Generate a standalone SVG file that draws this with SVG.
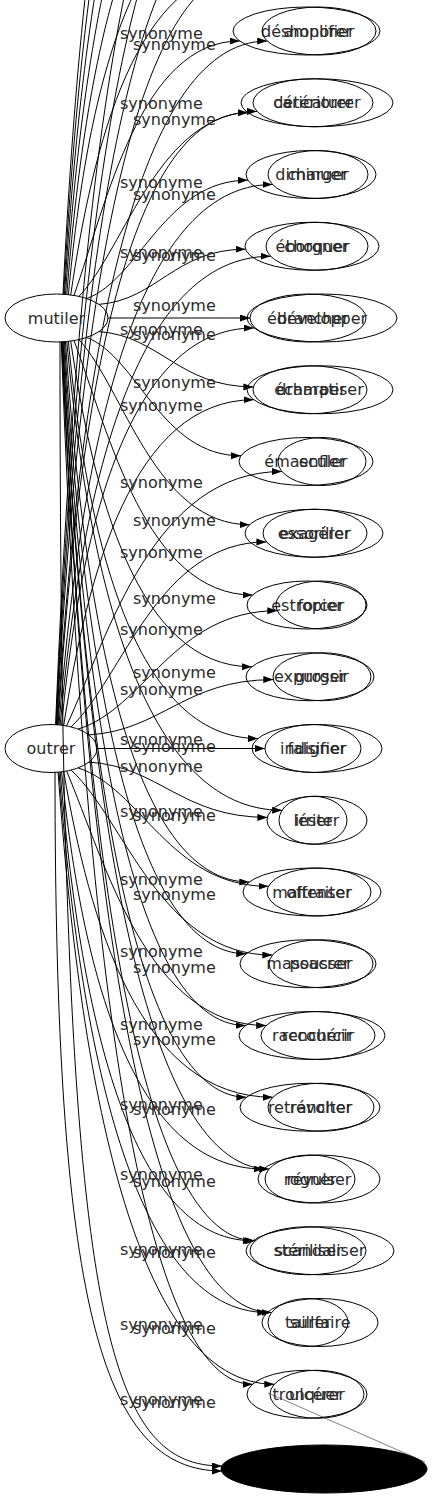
<svg xmlns="http://www.w3.org/2000/svg" width="432" height="1499" viewBox="0 0 432 1499">
<style>
.e{fill:none;stroke:#000;stroke-width:1;marker-end:url(#ah)}
.n ellipse{fill:none;stroke:#000;stroke-width:1}
text{font-family:"DejaVu Sans","Noto Sans",sans-serif;font-size:16px;fill:#2a2a2a}
.n text{text-anchor:middle}
</style>
<defs>
<marker id="ah" markerUnits="userSpaceOnUse" markerWidth="11" markerHeight="8" refX="10" refY="3.5" orient="auto"><path d="M0,0 L10,3.5 L0,7 z" fill="#000"/></marker>
</defs>
<rect width="432" height="1499" fill="#fff"/>
<g id="connectors">
<!-- mutiler upward (off canvas) -->
<path class="e" d="M70.7,294.9 C93.1,143.5 136.3,-30.75 251,-30.75"/>
<path class="e" d="M68.4,294.6 C86.7,96 132.3,-102.5 251,-102.5"/>
<path class="e" d="M66.8,294.5 C85.2,60.1 131.3,-174.25 251,-174.25"/>
<path class="e" d="M65.5,294.4 C84.1,24.2 130.4,-246 251,-246"/>
<path class="e" d="M64.5,294.3 C83.2,-11.7 129.8,-317.75 251,-317.75"/>
<path class="e" d="M63.7,294.2 C82.4,-47.7 129.3,-389.5 251,-389.5"/>
<path class="e" d="M63,294.2 C81.8,-83.5 128.8,-461.25 251,-461.25"/>
<!-- mutiler edges -->
<path class="e" d="M74,295.4 C106.4,202.9 141.1,41 239.7,41"/>
<path class="e" d="M78.9,296.4 C126.1,247.5 158,111.4 257,111.4"/>
<path class="e" d="M86.7,298.6 C140.2,278.6 164.4,180.2 247.9,180.2"/>
<path class="e" d="M99,304.4 C156.9,300 174.9,249.2 245.5,249.2"/>
<path class="e" d="M108,318 C150,318 200,318 250,318"/>
<path class="e" d="M99,331.6 C160,336 179,386.9 253.4,386.9"/>
<path class="e" d="M86.7,337.4 C137.9,357.4 161.1,455.8 241,455.8"/>
<path class="e" d="M78.9,339.6 C124.1,388.5 154.7,524.7 249.6,524.7"/>
<path class="e" d="M74,340.6 C109,433.1 146.3,595 252.5,595"/>
<path class="e" d="M70.7,341.1 C93.2,492.7 136.6,666.8 251.8,666.8"/>
<path class="e" d="M68.4,341.4 C87.4,540 134.7,738.5 257.9,738.5"/>
<path class="e" d="M66.8,341.5 C88.3,575.9 142.2,810.3 282.1,810.3"/>
<path class="e" d="M65.5,341.6 C83.9,611.8 129.8,882 249.3,882"/>
<path class="e" d="M64.5,341.7 C82.7,647.8 128.1,953.8 246.2,953.8"/>
<path class="e" d="M63.7,341.8 C81.9,683.7 127.4,1025.5 245.6,1025.5"/>
<path class="e" d="M63,341.8 C81.3,719.6 127.2,1097.3 246.4,1097.3"/>
<path class="e" d="M62.5,341.8 C83.2,755.4 134.8,1169 269.1,1169"/>
<path class="e" d="M62.1,341.9 C81.4,791.4 129.7,1240.8 255.3,1240.8"/>
<path class="e" d="M61.7,341.9 C82.7,827.2 135.2,1312.5 271.6,1312.5"/>
<path class="e" d="M61.3,341.9 C80.4,863.1 128.2,1384.3 252.5,1384.3"/>
<path class="e" d="M60,342 C60,1300 100,1466 222,1466"/>
<!-- outrer upward (off canvas) -->
<path class="e" d="M56.8,724.7 C76.2,347 124.8,-30.75 251,-30.75"/>
<path class="e" d="M56.4,724.7 C75.9,311.1 124.5,-102.5 251,-102.5"/>
<path class="e" d="M56,724.7 C75.5,275.2 124.3,-174.25 251,-174.25"/>
<path class="e" d="M55.6,724.7 C75.1,239.4 124,-246 251,-246"/>
<!-- outrer edges -->
<path class="e" d="M57.4,724.7 C78.4,382.9 130.8,41 267.2,41"/>
<path class="e" d="M58.1,724.8 C77.1,418.8 124.5,112.75 247.9,112.75"/>
<path class="e" d="M59,724.9 C80.4,454.7 133.7,184.5 272.5,184.5"/>
<path class="e" d="M60.2,725 C81.2,490.6 133.8,256.25 270.6,256.25"/>
<path class="e" d="M61.6,725.1 C80.8,526.6 128.9,328 253.8,328"/>
<path class="e" d="M63.7,725.4 C87.3,574 132.8,399.75 253.6,399.75"/>
<path class="e" d="M66.6,725.9 C108.8,633.4 153.8,471.5 282,471.5"/>
<path class="e" d="M71.1,726.9 C122.9,678 157.8,541.9 266.4,541.9"/>
<path class="e" d="M78,729.1 C144.2,709.1 174.1,610.7 277.3,610.7"/>
<path class="e" d="M88.9,734.9 C161.7,730.5 184.4,679.6 273.3,679.6"/>
<path class="e" d="M97,748.5 C150,748.5 210,748.5 265,748.5"/>
<path class="e" d="M88.9,762.1 C159.4,766.5 181.4,817.4 267.4,817.4"/>
<path class="e" d="M78,767.9 C141.2,787.9 169.8,886.3 268.5,886.3"/>
<path class="e" d="M71.1,770.1 C124.4,819 160.5,955.1 272.4,955.1"/>
<path class="e" d="M66.6,771.1 C105.7,863.6 147.4,1025.5 266.2,1025.5"/>
<path class="e" d="M63.7,771.6 C89.7,923 139.8,1097.25 272.8,1097.25"/>
<path class="e" d="M61.6,771.9 C81.8,970.5 132.3,1169 263.6,1169"/>
<path class="e" d="M60.2,772 C79.5,1006.4 127.6,1240.75 252.7,1240.75"/>
<path class="e" d="M59,772.1 C79.8,1042.3 131.9,1312.5 267.3,1312.5"/>
<path class="e" d="M58.1,772.2 C79.7,1078.2 133.8,1384.25 274.3,1384.25"/>
<path class="e" d="M55,772 C55,1300 100,1471 222,1471"/>
<path d="M268,1393 L425,1462" fill="none" stroke="#000" stroke-width="0.5"/>
<!-- edge labels -->
<text x="120" y="39">synonyme</text>
<text x="133" y="50">synonyme</text>
<text x="120" y="109">synonyme</text>
<text x="133" y="125">synonyme</text>
<text x="120" y="188">synonyme</text>
<text x="133" y="200">synonyme</text>
<text x="120" y="258">synonyme</text>
<text x="133" y="261">synonyme</text>
<text x="133" y="311">synonyme</text>
<text x="120" y="335">synonyme</text>
<text x="133" y="340">synonyme</text>
<text x="133" y="388">synonyme</text>
<text x="120" y="411">synonyme</text>
<text x="120" y="488">synonyme</text>
<text x="133" y="526">synonyme</text>
<text x="120" y="558">synonyme</text>
<text x="133" y="604">synonyme</text>
<text x="120" y="635">synonyme</text>
<text x="133" y="678">synonyme</text>
<text x="120" y="695">synonyme</text>
<text x="120" y="745">synonyme</text>
<text x="133" y="752">synonyme</text>
<text x="120" y="772">synonyme</text>
<text x="120" y="817">synonyme</text>
<text x="133" y="821">synonyme</text>
<text x="120" y="885">synonyme</text>
<text x="133" y="900">synonyme</text>
<text x="120" y="957">synonyme</text>
<text x="133" y="973">synonyme</text>
<text x="120" y="1030">synonyme</text>
<text x="133" y="1045">synonyme</text>
<text x="120" y="1110">synonyme</text>
<text x="133" y="1115">synonyme</text>
<text x="120" y="1180">synonyme</text>
<text x="133" y="1187">synonyme</text>
<text x="120" y="1255">synonyme</text>
<text x="133" y="1258">synonyme</text>
<text x="120" y="1330">synonyme</text>
<text x="133" y="1334">synonyme</text>
<text x="120" y="1405">synonyme</text>
<text x="133" y="1408">synonyme</text>
</g>
<g id="mutiler" class="n"><ellipse cx="56.5" cy="318" rx="51.5" ry="24"/><text x="56.5" y="323.5">mutiler</text></g>
<g id="outrer" class="n"><ellipse cx="51" cy="748.5" rx="46" ry="24"/><text x="51" y="754">outrer</text></g>
<g id="m-deshonorer" class="n"><ellipse cx="306.5" cy="31" rx="73.5" ry="24"/><text x="306.5" y="36.5">déshonorer</text></g>
<g id="o-amplifier" class="n"><ellipse cx="319" cy="31" rx="57" ry="24"/><text x="319" y="36.5">amplifier</text></g>
<g id="m-deteriorer" class="n"><ellipse cx="313" cy="102.75" rx="60" ry="24"/><text x="313" y="108.25">détériorer</text></g>
<g id="o-caricaturer" class="n"><ellipse cx="317" cy="102.75" rx="76" ry="24"/><text x="317" y="108.25">caricaturer</text></g>
<g id="m-diminuer" class="n"><ellipse cx="311" cy="174.5" rx="65" ry="24"/><text x="311" y="180">diminuer</text></g>
<g id="o-charger" class="n"><ellipse cx="318" cy="174.5" rx="50" ry="24"/><text x="318" y="180">charger</text></g>
<g id="m-eborgner" class="n"><ellipse cx="312" cy="246.25" rx="67" ry="24"/><text x="312" y="251.75">éborgner</text></g>
<g id="o-choquer" class="n"><ellipse cx="317" cy="246.25" rx="51" ry="24"/><text x="317" y="251.75">choquer</text></g>
<g id="m-ebrancher" class="n"><ellipse cx="308" cy="318" rx="58" ry="24"/><text x="308" y="323.5">ébrancher</text></g>
<g id="o-developper" class="n"><ellipse cx="322" cy="318" rx="75" ry="24"/><text x="322" y="323.5">développer</text></g>
<g id="m-echarper" class="n"><ellipse cx="310" cy="389.75" rx="57" ry="24"/><text x="310" y="395.25">écharper</text></g>
<g id="o-dramatiser" class="n"><ellipse cx="320" cy="389.75" rx="73" ry="24"/><text x="320" y="395.25">dramatiser</text></g>
<g id="m-emasculer" class="n"><ellipse cx="306" cy="461.5" rx="67" ry="24"/><text x="306" y="467">émasculer</text></g>
<g id="o-enfler" class="n"><ellipse cx="322" cy="461.5" rx="44" ry="24"/><text x="322" y="467">enfler</text></g>
<g id="m-essoriller" class="n"><ellipse cx="314" cy="533.25" rx="69" ry="24"/><text x="314" y="538.75">essoriller</text></g>
<g id="o-exagerer" class="n"><ellipse cx="315" cy="533.25" rx="52" ry="24"/><text x="315" y="538.75">exagérer</text></g>
<g id="m-estropier" class="n"><ellipse cx="307" cy="605" rx="60" ry="24"/><text x="307" y="610.5">estropier</text></g>
<g id="o-forcer" class="n"><ellipse cx="321" cy="605" rx="45" ry="24"/><text x="321" y="610.5">forcer</text></g>
<g id="m-expurger" class="n"><ellipse cx="310" cy="676.75" rx="64" ry="24"/><text x="310" y="682.25">expurger</text></g>
<g id="o-grossir" class="n"><ellipse cx="322" cy="676.75" rx="49" ry="24"/><text x="322" y="682.25">grossir</text></g>
<g id="m-falsifier" class="n"><ellipse cx="317" cy="748.5" rx="65" ry="24"/><text x="317" y="754">falsifier</text></g>
<g id="o-indigner" class="n"><ellipse cx="313" cy="748.5" rx="48" ry="24"/><text x="313" y="754">indigner</text></g>
<g id="m-leser" class="n"><ellipse cx="313" cy="820.25" rx="34" ry="24"/><text x="313" y="825.75">léser</text></g>
<g id="o-irriter" class="n"><ellipse cx="317" cy="820.25" rx="50" ry="24"/><text x="317" y="825.75">irriter</text></g>
<g id="m-maltraiter" class="n"><ellipse cx="312" cy="892" rx="69" ry="24"/><text x="312" y="897.5">maltraiter</text></g>
<g id="o-offenser" class="n"><ellipse cx="319" cy="892" rx="52" ry="24"/><text x="319" y="897.5">offenser</text></g>
<g id="m-massacrer" class="n"><ellipse cx="308" cy="963.75" rx="68" ry="24"/><text x="308" y="969.25">massacrer</text></g>
<g id="o-pousser" class="n"><ellipse cx="321" cy="963.75" rx="52" ry="24"/><text x="321" y="969.25">pousser</text></g>
<g id="m-raccourcir" class="n"><ellipse cx="312" cy="1035.5" rx="73" ry="24"/><text x="312" y="1041">raccourcir</text></g>
<g id="o-rencherir" class="n"><ellipse cx="318" cy="1035.5" rx="57" ry="24"/><text x="318" y="1041">renchérir</text></g>
<g id="m-retrancher" class="n"><ellipse cx="310" cy="1107.25" rx="70" ry="24"/><text x="310" y="1112.75">retrancher</text></g>
<g id="o-revolter" class="n"><ellipse cx="321" cy="1107.25" rx="53" ry="24"/><text x="321" y="1112.75">révolter</text></g>
<g id="m-rogner" class="n"><ellipse cx="310" cy="1179" rx="45" ry="24"/><text x="310" y="1184.5">rogner</text></g>
<g id="o-revulser" class="n"><ellipse cx="319" cy="1179" rx="61" ry="24"/><text x="319" y="1184.5">révulser</text></g>
<g id="m-steriliser" class="n"><ellipse cx="308" cy="1250.75" rx="58" ry="24"/><text x="308" y="1256.25">stériliser</text></g>
<g id="o-scandaliser" class="n"><ellipse cx="320" cy="1250.75" rx="74" ry="24"/><text x="320" y="1256.25">scandaliser</text></g>
<g id="m-tailler" class="n"><ellipse cx="308" cy="1322.5" rx="40" ry="24"/><text x="308" y="1328">tailler</text></g>
<g id="o-surfaire" class="n"><ellipse cx="320" cy="1322.5" rx="58" ry="24"/><text x="320" y="1328">surfaire</text></g>
<g id="m-tronquer" class="n"><ellipse cx="307" cy="1394.25" rx="60" ry="24"/><text x="307" y="1399.75">tronquer</text></g>
<g id="o-ulcerer" class="n"><ellipse cx="317" cy="1394.25" rx="47" ry="24"/><text x="317" y="1399.75">ulcérer</text></g>
<g id="n-black"><ellipse cx="324" cy="1469" rx="103" ry="24" fill="#000" stroke="#000"/></g>
</svg>
